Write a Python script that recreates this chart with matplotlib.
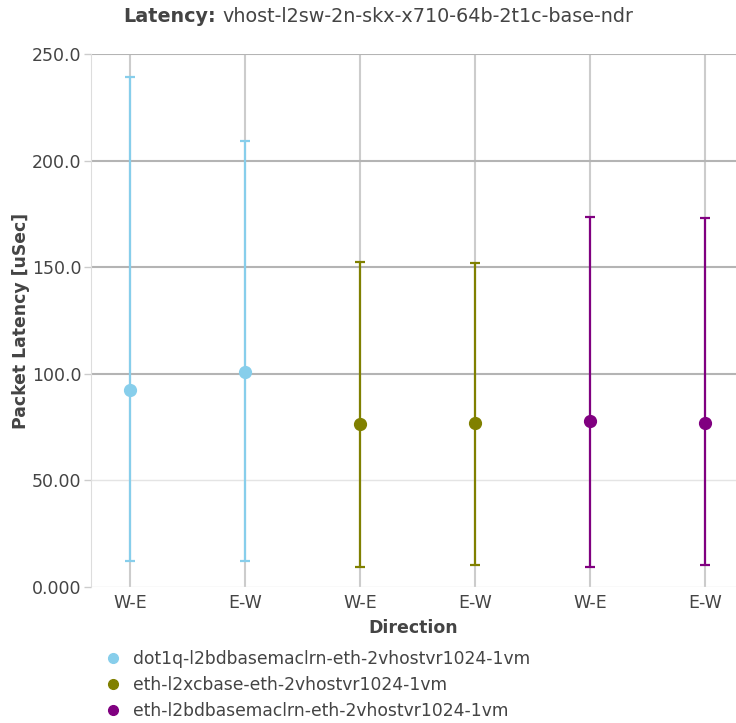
import matplotlib
matplotlib.use("Agg")
from matplotlib import pyplot as plt
from matplotlib.lines import Line2D

plt.rcParams['font.family'] = ['DejaVu Sans']

directions = ['W-E', 'E-W', 'W-E', 'E-W', 'W-E', 'E-W']
series_names = ['dot1q-l2bdbasemaclrn-eth-2vhostvr1024-1vm',
                'eth-l2xcbase-eth-2vhostvr1024-1vm',
                'eth-l2bdbasemaclrn-eth-2vhostvr1024-1vm']
series_colors = ['#87ceeb', '#808000', '#800080']
# avg / min / max latency per series, [W-E, E-W]
avg_lat = [[92.4, 100.8], [76.5, 76.9], [77.9, 76.9]]
min_lat = [[12.2, 12.2], [9.4, 10.3], [9.4, 10.3]]
max_lat = [[239.2, 209.2], [152.4, 152.0], [173.5, 173.1]]
y_ticks = [0, 50, 100, 150, 200, 250]
y_tick_labels = ['0.000', '50.00', '100.0', '150.0', '200.0', '250.0']

text_col = '#444444'

fig = plt.figure(figsize=(7.36, 7.23), dpi=100)
ax = fig.add_axes([91 / 736, 1 - 587 / 723, 1 - 91 / 736, (587 - 54) / 723])

# grid lines
for i in range(len(directions)):
    ax.axvline(i, color='#cccccc', lw=1.5, zorder=0)
for t in y_ticks:
    if t >= 100:
        ax.axhline(t, color='#b4b4b4', lw=1.5, zorder=0)
    else:
        ax.axhline(t, color='#e4e4e4', lw=1.0, zorder=0)

for s in range(len(series_names)):
    xs = [2 * s, 2 * s + 1]
    lo = [avg_lat[s][k] - min_lat[s][k] for k in range(2)]
    hi = [max_lat[s][k] - avg_lat[s][k] for k in range(2)]
    ax.errorbar(xs, avg_lat[s], yerr=[lo, hi], fmt='o', color=series_colors[s],
                ecolor=series_colors[s], elinewidth=1.6, capsize=3.5, capthick=1.6,
                markersize=8.5, zorder=3)

ax.set_xlim(-0.34, 5.27)
ax.set_ylim(0, 250)
ax.set_xticks(range(len(directions)))
ax.set_xticklabels(directions)
ax.set_yticks(y_ticks)
ax.set_yticklabels(y_tick_labels)
ax.tick_params(axis='x', length=0, pad=5, labelsize=12.5, labelcolor=text_col)
ax.tick_params(axis='y', length=5, width=1, color='#cccccc', pad=2,
               labelsize=12.5, labelcolor=text_col)
for side in ['top', 'right', 'bottom']:
    ax.spines[side].set_visible(False)
ax.spines['left'].set_color('#dddddd')

ax.set_xlabel('Direction', fontsize=12.5, fontweight='bold', color=text_col, labelpad=5)
ax.set_ylabel('Packet Latency [uSec]', fontsize=12.4, fontweight='bold', color=text_col,
              labelpad=1)

t1 = fig.text(123 / 736, 1 - 17 / 723, 'Latency:', fontsize=13.8, fontweight='bold',
              color=text_col, ha='left', va='center')
fig.canvas.draw()
bb = t1.get_window_extent()
fig.text((bb.x1 + 7) / 736, 1 - 17 / 723, 'vhost-l2sw-2n-skx-x710-64b-2t1c-base-ndr',
         fontsize=13.8, color=text_col, ha='left', va='center')

handles = [Line2D([], [], marker='o', ls='', color=c, markersize=7) for c in series_colors]
fig.legend(handles, series_names, loc='upper left', bbox_to_anchor=(104 / 736, 1 - 650 / 723),
           frameon=False, fontsize=12.3, labelcolor=text_col, handlelength=1.0,
           handletextpad=0.7, labelspacing=0.48, borderaxespad=0, borderpad=0)

fig.savefig('out.png', dpi=100)
